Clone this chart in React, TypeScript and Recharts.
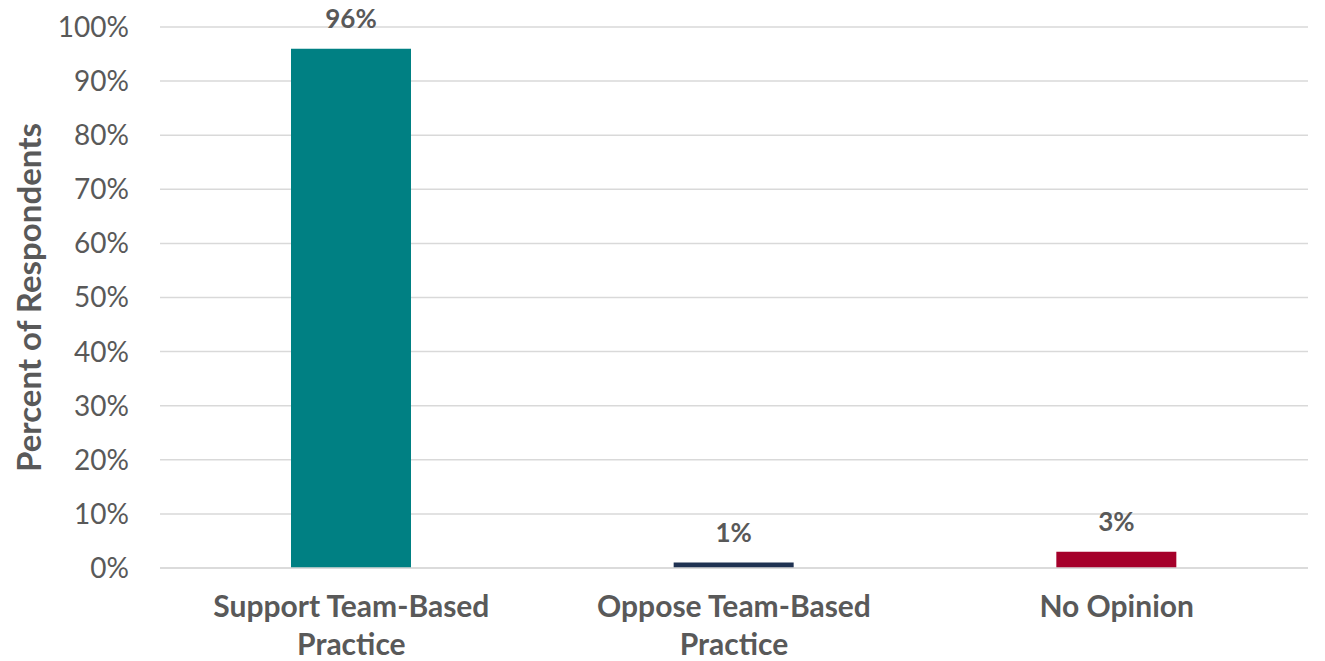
import { BarChart, Bar, XAxis, YAxis, CartesianGrid, LabelList, Cell } from "recharts";

const categories = ["Support Team-Based Practice", "Oppose Team-Based Practice", "No Opinion"];
const categoryLines = [["Support Team-Based", "Practice"], ["Oppose Team-Based", "Practice"], ["No Opinion"]];
const percents = [96, 1, 3];
const barColors = ["#008083", "#1F3252", "#A5002A"];
const yTicks = [0, 10, 20, 30, 40, 50, 60, 70, 80, 90, 100];

const data = categories.map((name, i) => ({ name, value: percents[i], idx: i }));

const FONT = "Lato, 'Noto Sans', sans-serif";
const GRAY = "#595959";

function CategoryTick({ x, y, payload }: any) {
  const lines = categoryLines[payload.index] ?? [payload.value];
  return (
    <text x={x} y={y} textAnchor="middle" fill={GRAY} fontFamily={FONT} fontSize={30} fontWeight="bold">
      {lines.map((line, i) => (
        <tspan key={i} x={x} dy={i === 0 ? 41 : 38}>
          {line}
        </tspan>
      ))}
    </text>
  );
}

export default function App() {
  return (
    <div style={{ position: "absolute", left: 0, top: 0, width: 1325, height: 661, background: "#fff" }}>
      <BarChart width={1325} height={661} data={data} margin={{ top: 27, right: 17, bottom: 0, left: 0 }}>
        <CartesianGrid vertical={false} stroke="#d9d9d9" strokeWidth={1.5} />
        <XAxis
          dataKey="name"
          height={93}
          axisLine={{ stroke: "#d9d9d9", strokeWidth: 1.5 }}
          tickLine={false}
          interval={0}
          tick={<CategoryTick />}
        />
        <YAxis
          width={160}
          domain={[0, 100]}
          ticks={yTicks}
          tickFormatter={(v: number) => `${v}%`}
          axisLine={false}
          tickLine={false}
          tickSize={0}
          tickMargin={31}
          tick={{ fill: GRAY, fontFamily: FONT, fontSize: 28 }}
          label={{
            value: "Percent of Respondents",
            angle: -90,
            position: "insideLeft",
            dx: 24,
            style: { fill: GRAY, fontFamily: FONT, fontSize: 33, fontWeight: "bold", textAnchor: "middle" },
          }}
        />
        <Bar dataKey="value" barSize={120} isAnimationActive={false}>
          {data.map((d) => (
            <Cell key={d.name} fill={barColors[d.idx]} />
          ))}
          <LabelList
            dataKey="value"
            position="top"
            offset={21}
            formatter={(v: number) => `${v}%`}
            style={{ fill: GRAY, fontFamily: FONT, fontSize: 26, fontWeight: "bold" }}
          />
        </Bar>
      </BarChart>
    </div>
  );
}
